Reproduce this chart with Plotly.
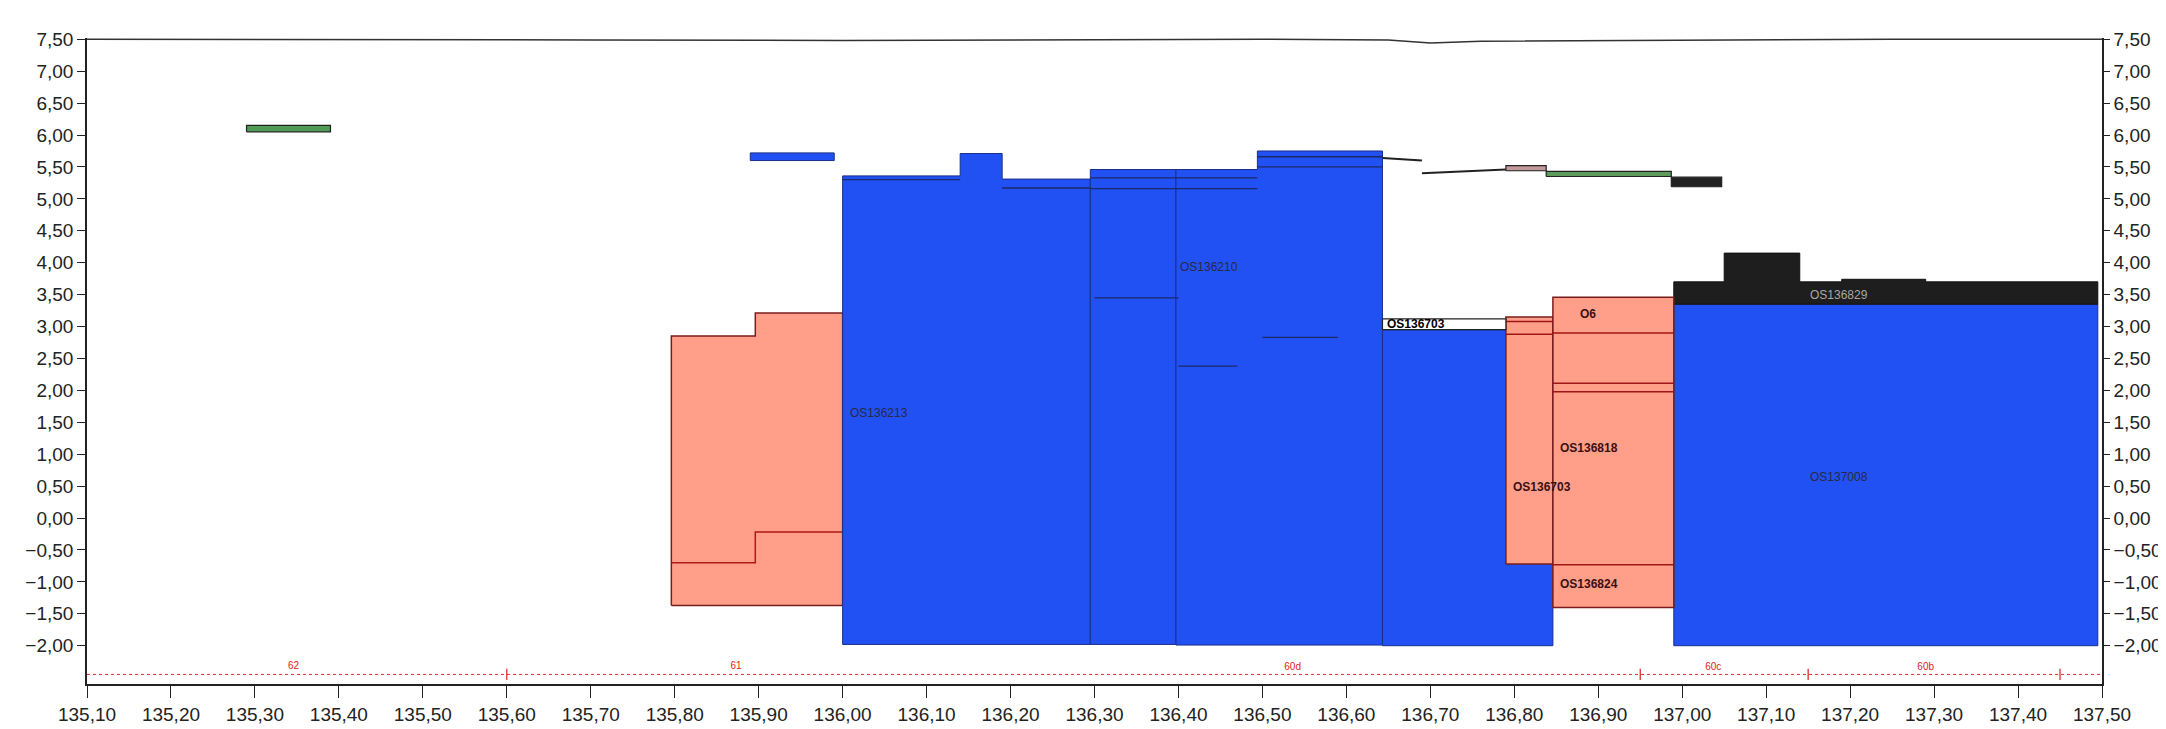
import plotly.graph_objects as go

# ---------------- data ----------------
# ground / top profile line
ground_x = [135.10, 135.40, 135.70, 136.00, 136.30, 136.50, 136.65, 136.70, 136.76, 137.00, 137.25, 137.50]
ground_y = [7.50, 7.50, 7.49, 7.48, 7.49, 7.50, 7.49, 7.44, 7.47, 7.49, 7.50, 7.50]

# reference (red dotted) line with section labels
ref_x = [135.10, 137.50]
ref_y = [-2.45, -2.45]
sec_mark_x = [135.60, 136.95, 137.15, 137.45]
sec_mark_y = [-2.45, -2.45, -2.45, -2.45]
sec_lab = ["62", "61", "60d", "60c", "60b"]
sec_lab_x = [135.346, 135.873, 136.536, 137.037, 137.290]
sec_lab_y = [-2.33, -2.33, -2.34, -2.34, -2.34]

# blue zones: breakpoints along x, top of each step, bottom
blueA_x = [136.000, 136.140, 136.190, 136.295]
blueA_top = [5.36, 5.71, 5.31]
blueA_bot = -1.98
blueB_x = [136.295, 136.397]
blueB_top = [5.46]
blueB_bot = -1.98
blueC_x = [136.397, 136.494, 136.643]
blueC_top = [5.46, 5.75]
blueC_bot = -1.99
blueD_x = [136.643, 136.846]
blueD_top = [2.95]
blueD_bot = -2.00
blueE_x = [136.990, 137.495]
blueE_top = [3.35]
blueE_bot = -2.00
blueS_x = [135.890, 135.990]
blueS_top = [5.72]
blueS_bot = 5.60

# dark zone on top of the right blue zone
dark_x = [136.990, 137.050, 137.140, 137.190, 137.290, 137.495]
dark_top = [3.70, 4.15, 3.70, 3.74, 3.70]
dark_bot = 3.35

# pink zones
pinkA_x = [135.796, 135.896, 136.000]
pinkA_top = [2.85, 3.21]
pinkA_bot = -1.37
pinkB_x = [136.790, 136.846]
pinkB_top = [3.15]
pinkB_bot = -0.72
pinkC_x = [136.846, 136.990]
pinkC_top = [3.46]
pinkC_bot = -1.40

# inner layer line inside left pink zone
pinkA_line_x = [135.796, 135.896, 135.896, 136.000]
pinkA_line_y = [-0.70, -0.70, -0.22, -0.22]
# inner horizontal layer lines in right pink zones: x0, x1, y
pink_lines_x0 = [136.790, 136.790, 136.846, 136.846, 136.846, 136.846]
pink_lines_x1 = [136.846, 136.846, 136.990, 136.990, 136.990, 136.990]
pink_lines_y = [3.08, 2.88, 2.90, 2.11, 1.98, -0.73]

# thin dark layer lines on blue zones: x0, x1, y
blue_lines_x0 = [136.000, 136.190, 136.295, 136.295, 136.494, 136.494, 136.300, 136.400, 136.500]
blue_lines_x1 = [136.140, 136.295, 136.494, 136.494, 136.643, 136.643, 136.400, 136.470, 136.590]
blue_lines_y = [5.30, 5.17, 5.16, 5.33, 5.66, 5.50, 3.45, 2.38, 2.83]

# small boxes near the top: x0, x1, y0, y1, fill
box_x0 = [135.290, 136.790, 136.838, 136.987, 136.643]
box_x1 = [135.390, 136.838, 136.987, 137.047, 136.790]
box_y0 = [6.05, 5.44, 5.35, 5.19, 2.95]
box_y1 = [6.15, 5.52, 5.43, 5.34, 3.12]
box_fill = ["#4f9a55", "#c39a9a", "#5c9c5c", "#222222", "#ffffff"]

# black profile segments between boxes
seg_x = [136.643, 136.690, None, 136.690, 136.790]
seg_y = [5.64, 5.60, None, 5.40, 5.46]

# zone labels
lab_text = ["OS136213", "OS136210", "OS136703", "O6", "OS136818", "OS136703", "OS136824", "OS137008", "OS136829"]
lab_x = [136.006, 136.400, 136.646, 136.876, 136.852, 136.796, 136.852, 137.150, 137.150]
lab_y = [1.64, 3.93, 3.04, 3.20, 1.09, 0.48, -1.04, 0.64, 3.50]
lab_col = ["#2a2a40", "#2a2a40", "#000000", "#3a1010", "#3a1010", "#3a1010", "#3a1010", "#2a2a40", "#a8a8a8"]
lab_bold = [False, False, True, True, True, True, True, False, False]

# ---------------- styles ----------------
BLUE = "#2151f2"
BLUE_EDGE = "#1a2f8a"
PINK = "#ff9f89"
PINK_EDGE = "#7a1c1c"
FONT = "Liberation Sans"


def stepped(xs, tops, bot):
    px, py = [xs[0]], [bot]
    for i, t in enumerate(tops):
        px += [xs[i], xs[i + 1]]
        py += [t, t]
    px += [xs[-1], xs[0]]
    py += [bot, bot]
    return px, py


fig = go.Figure()


def poly(xs, tops, bot, fill, edge, width=1.0):
    px, py = stepped(xs, tops, bot)
    fig.add_trace(go.Scatter(x=px, y=py, mode="lines", fill="toself", fillcolor=fill,
                             line=dict(color=edge, width=width), hoverinfo="skip", showlegend=False))


# pink left zone
poly(pinkA_x, pinkA_top, pinkA_bot, PINK, PINK_EDGE, 1.5)
fig.add_trace(go.Scatter(x=pinkA_line_x, y=pinkA_line_y, mode="lines",
                         line=dict(color="#b01818", width=1.5), hoverinfo="skip", showlegend=False))

# blue zones
for xs, tops, bot in [(blueA_x, blueA_top, blueA_bot), (blueB_x, blueB_top, blueB_bot),
                      (blueC_x, blueC_top, blueC_bot), (blueD_x, blueD_top, blueD_bot),
                      (blueE_x, blueE_top, blueE_bot), (blueS_x, blueS_top, blueS_bot)]:
    poly(xs, tops, bot, BLUE, BLUE_EDGE, 1.0)

# dark top zone
poly(dark_x, dark_top, dark_bot, "#1e1e1e", "#111111", 1.0)

# thin layer lines on blue
lx, ly = [], []
for a, b, y in zip(blue_lines_x0, blue_lines_x1, blue_lines_y):
    lx += [a, b, None]
    ly += [y, y, None]
fig.add_trace(go.Scatter(x=lx, y=ly, mode="lines", line=dict(color="#1b2a66", width=1.3),
                         hoverinfo="skip", showlegend=False))

# right pink zones
poly(pinkB_x, pinkB_top, pinkB_bot, PINK, PINK_EDGE, 1.5)
poly(pinkC_x, pinkC_top, pinkC_bot, PINK, PINK_EDGE, 1.5)
lx, ly = [], []
for a, b, y in zip(pink_lines_x0, pink_lines_x1, pink_lines_y):
    lx += [a, b, None]
    ly += [y, y, None]
fig.add_trace(go.Scatter(x=lx, y=ly, mode="lines", line=dict(color="#a01515", width=1.5),
                         hoverinfo="skip", showlegend=False))

# small boxes
for a, b, c, d, f in zip(box_x0, box_x1, box_y0, box_y1, box_fill):
    fig.add_trace(go.Scatter(x=[a, b, b, a, a], y=[c, c, d, d, c], mode="lines", fill="toself",
                             fillcolor=f, line=dict(color="#222222", width=1.2),
                             hoverinfo="skip", showlegend=False))

# black profile segments
fig.add_trace(go.Scatter(x=seg_x, y=seg_y, mode="lines", line=dict(color="#222222", width=2),
                         hoverinfo="skip", showlegend=False))

# ground line
fig.add_trace(go.Scatter(x=ground_x, y=ground_y, mode="lines", line=dict(color="#333333", width=1.5),
                         hoverinfo="skip", showlegend=False, cliponaxis=False))

# red reference line and section marks
fig.add_trace(go.Scatter(x=ref_x, y=ref_y, mode="lines", line=dict(color="#e0303a", width=1.0, dash="dot"),
                         hoverinfo="skip", showlegend=False))
fig.add_trace(go.Scatter(x=sec_mark_x, y=sec_mark_y, mode="markers",
                         marker=dict(symbol="line-ns", size=8, line=dict(color="#d02020", width=1.2)),
                         hoverinfo="skip", showlegend=False))
fig.add_trace(go.Scatter(x=sec_lab_x, y=sec_lab_y, mode="text", text=sec_lab,
                         textfont=dict(family=FONT, size=10, color="#e02020"),
                         hoverinfo="skip", showlegend=False))

# zone labels
for t, x, y, c, bld in zip(lab_text, lab_x, lab_y, lab_col, lab_bold):
    fig.add_annotation(x=x, y=y, text=("<b>%s</b>" % t) if bld else t, showarrow=False,
                       xanchor="left", yanchor="middle",
                       font=dict(family=FONT, size=12, color=c))

# dummy trace to activate right axis
fig.add_trace(go.Scatter(x=[135.10], y=[0], yaxis="y2", mode="markers", marker=dict(opacity=0),
                         hoverinfo="skip", showlegend=False))

Y_RANGE = [-2.60, 7.52]
ytick_vals = [-2.0, -1.5, -1.0, -0.5, 0.0, 0.5, 1.0, 1.5, 2.0, 2.5, 3.0, 3.5, 4.0, 4.5, 5.0, 5.5, 6.0, 6.5, 7.0, 7.5]

axis_font = dict(family=FONT, size=19, color="#222222")
fig.update_layout(
    width=2166, height=729,
    margin=dict(l=79, r=66, t=30, b=49),
    paper_bgcolor="white", plot_bgcolor="white",
    separators=",.",
    showlegend=False,
    xaxis=dict(range=[135.10, 137.50], tick0=135.10, dtick=0.1, tickformat=".2f",
               showgrid=False, zeroline=False, showline=True, linecolor="#222222", linewidth=1.5,
               ticks="outside", ticklen=12, tickcolor="#222222", tickfont=axis_font),
    yaxis=dict(range=Y_RANGE, tickvals=ytick_vals, tickformat=".2f",
               showgrid=False, zeroline=False, showline=True, linecolor="#222222", linewidth=1.5,
               ticks="outside", ticklen=8, tickcolor="#222222", tickfont=axis_font),
    yaxis2=dict(range=Y_RANGE, tickvals=ytick_vals, tickformat=".2f", overlaying="y", side="right",
                showgrid=False, zeroline=False, showline=True, linecolor="#222222", linewidth=1.5,
                ticks="outside", ticklen=6, tickcolor="#222222", tickfont=axis_font),
)

fig.write_html("out.html")
